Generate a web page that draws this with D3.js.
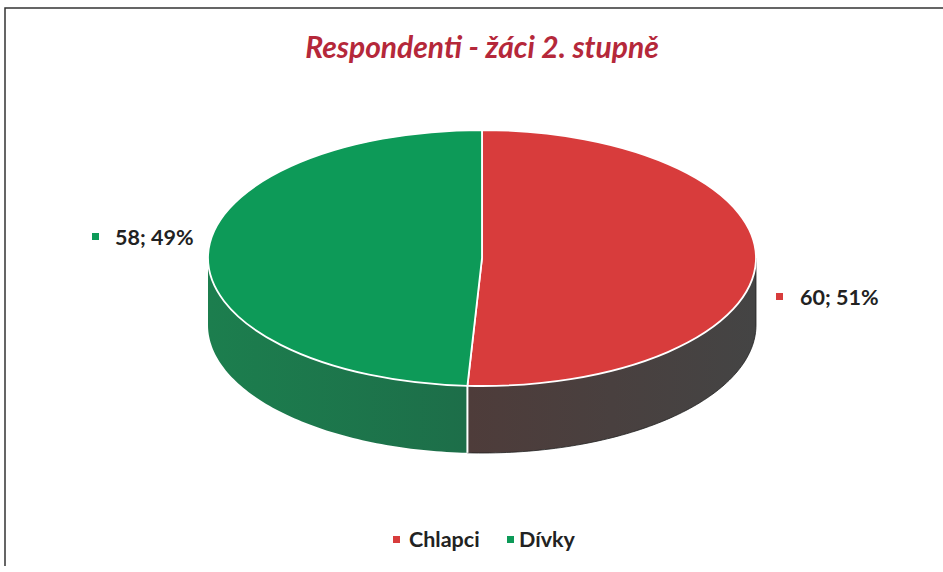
<!DOCTYPE html>
<html><head><meta charset="utf-8">
<script src="https://cdn.jsdelivr.net/npm/d3@7"></script>
<style>body{margin:0;background:#fff;}svg{display:block;}</style>
</head><body>
<svg id="c" width="943" height="572"></svg>
<script>
const categories = ["Chlapci", "Dívky"];
const values = [60, 58];
const percents = ["51%", "49%"];
const title = "Respondenti - žáci 2. stupně";

const topColors = ["#d83c3c", "#0d9a58"];
const sideColors = [["#4e3c3a", "#444444"], ["#1c7e4e", "#1d6e49"]];

const svg = d3.select("#c");
const W = 943, H = 572;
const cx = 482, cy = 258, rx = 274, ry = 128, depth = 67;

// frame
svg.append("path").attr("d", `M5,${H-6} L5,8 L${W},8`).attr("fill","none").attr("stroke","#333").attr("stroke-width",1.5);

svg.append("text").attr("x", 482).attr("y", 58).attr("text-anchor","middle")
  .attr("font-family","Lato, 'Open Sans', sans-serif").attr("font-weight","bold").attr("font-style","italic")
  .attr("font-size", 30).attr("fill","#b5283a").text(title);

const defs = svg.append("defs");
sideColors.forEach((c,i)=>{
  const g = defs.append("linearGradient").attr("id","sg"+i).attr("x1","0").attr("x2","1").attr("y1","0").attr("y2","0");
  g.append("stop").attr("offset","0%").attr("stop-color", c[0]);
  g.append("stop").attr("offset","100%").attr("stop-color", c[1]);
});

const pie = d3.pie().sort(null).value(d=>d).startAngle(0).endAngle(2*Math.PI);
const arcs = pie(values);

const px = a => cx + rx*Math.sin(a);
const py = (a, off=0) => cy - ry*Math.cos(a) + off;

// sides (front half: angles between PI/2 and 3PI/2)
const gSide = svg.append("g");
arcs.forEach((d,i)=>{
  const a0 = Math.max(d.startAngle, Math.PI/2), a1 = Math.min(d.endAngle, 3*Math.PI/2);
  if (a1 <= a0) return;
  const n = 80;
  const angs = d3.range(n+1).map(k => a0 + (a1-a0)*k/n);
  let p = "M" + angs.map(a => `${px(a)},${py(a)}`).join("L");
  p += "L" + angs.slice().reverse().map(a => `${px(a)},${py(a,depth)}`).join("L") + "Z";
  gSide.append("path").attr("d", p).attr("fill", "url(#sg"+i+")")
    .attr("stroke", i===0 ? "#222" : "none").attr("stroke-width", 0.8);
});
// divider on side
arcs.forEach(d=>{
  const a = d.startAngle;
  if (a > Math.PI/2 && a < 3*Math.PI/2) {
    gSide.append("line").attr("x1",px(a)).attr("x2",px(a)).attr("y1",py(a)).attr("y2",py(a,depth))
      .attr("stroke","#fff").attr("stroke-width",2);
  }
});

// top
const arc = d3.arc().innerRadius(0).outerRadius(rx);
const gTop = svg.append("g").attr("transform", `translate(${cx},${cy}) scale(1,${ry/rx})`);
gTop.selectAll("path").data(arcs).join("path")
  .attr("d", arc).attr("fill", (d,i)=>topColors[i])
  .attr("stroke","#fff").attr("stroke-width",1.8).attr("vector-effect","non-scaling-stroke");

// data labels
const labelPos = [{x:800, y:305, mx:776, my:293}, {x:115, y:245, mx:92, my:233}];
arcs.forEach((d,i)=>{
  const L = labelPos[i];
  svg.append("rect").attr("x",L.mx).attr("y",L.my).attr("width",7).attr("height",7).attr("fill",topColors[i]);
  svg.append("text").attr("x",L.x).attr("y",L.y).attr("font-family","Lato, 'Open Sans', sans-serif")
    .attr("font-weight","bold").attr("font-size",21.5).attr("fill","#222").text(`${values[i]}; ${percents[i]}`);
});

// legend
const legX = [393, 507], legTX = [409, 519];
categories.forEach((c,i)=>{
  svg.append("rect").attr("x",legX[i]).attr("y",536).attr("width",7).attr("height",7).attr("fill",topColors[i]);
  svg.append("text").attr("x",legTX[i]).attr("y",547).attr("font-family","Lato, 'Open Sans', sans-serif")
    .attr("font-weight","bold").attr("font-size",21.5).attr("fill","#222").text(c);
});
</script>
</body></html>
